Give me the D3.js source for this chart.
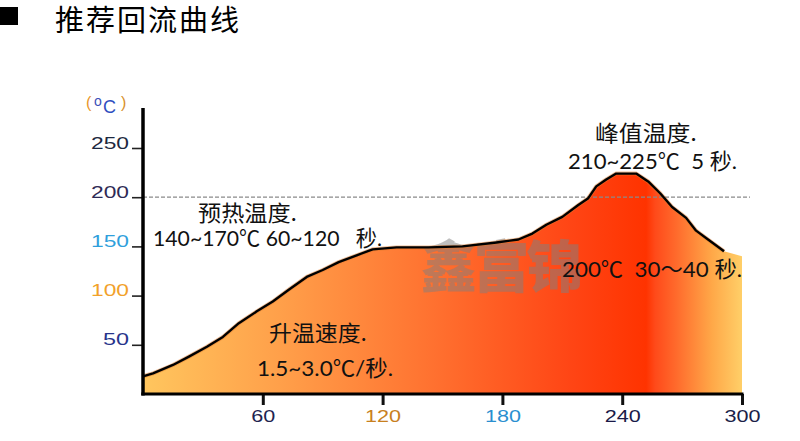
<!DOCTYPE html>
<html>
<head>
<meta charset="utf-8">
<script src="https://cdn.jsdelivr.net/npm/d3@7"></script>
<style>
  html, body { margin: 0; padding: 0; background: #fff; }
  svg { display: block; }
  text { white-space: pre; }
</style>
</head>
<body>
<svg id="chart" width="800" height="441"></svg>
<script>
// ---- data ----
const title = "推荐回流曲线";
const yTicks = [50, 100, 150, 200, 250];
const yTickColors = ["#27348b", "#f2a12a", "#2f9fdc", "#2e2a55", "#1d2840"];
const xTicks = [60, 120, 180, 240, 300];
const xTickColors = ["#1e2450", "#c8801e", "#2a8fd0", "#1a1a48", "#1a2048"];
const times = [0, 5, 15, 23, 32, 40, 48, 57, 65, 73, 82, 90, 98, 107, 115, 127, 143, 160, 177, 188, 195, 202, 210, 218, 223, 227, 232, 237, 247, 253, 259, 265, 272, 277, 283, 291];
const temps = [18, 21, 29.5, 38, 48, 58, 72, 84, 94, 106, 119, 126, 134, 141, 147, 149, 149, 150, 154, 157, 163, 172, 180, 192, 199, 211, 218, 224, 224, 216, 204, 190, 179, 166, 157, 145];
const fillEnd = [300, 140];
const refTemp = 200;

const svg = d3.select("#chart");
const x = d3.scaleLinear().domain([0, 300]).range([143, 742]);
const y = d3.scaleLinear().domain([0, 250]).range([394, 148]);

const pts = times.map((t, i) => [t, temps[i]]);
const areaPts = pts.concat([fillEnd]);

// gradient
const defs = svg.append("defs");
const grad = defs.append("linearGradient").attr("id", "g")
  .attr("gradientUnits", "userSpaceOnUse")
  .attr("x1", x(0)).attr("x2", x(300)).attr("y1", 0).attr("y2", 0);
[[0, "#ffc65e"], [0.25, "#ff9c48"], [0.5, "#ff6e2e"], [0.72, "#ff4414"], [0.84, "#ff3300"], [0.855, "#ff4a1a"], [0.89, "#ff6a2c"], [0.95, "#ffa848"], [1, "#ffcf68"]]
  .forEach(([o, c]) => grad.append("stop").attr("offset", o).attr("stop-color", c));

// area
const area = d3.area().x(d => x(d[0])).y0(y(0)).y1(d => y(d[1]));
svg.append("path").datum(areaPts).attr("d", area).attr("fill", "url(#g)");

// watermark
svg.append("text").attr("x", 500).attr("y", 287).attr("text-anchor", "middle")
  .attr("font-family", "Noto Sans CJK SC").attr("font-weight", 900).attr("font-size", 56)
  .attr("fill", "#808080").attr("fill-opacity", 0.5).attr("letter-spacing", -3)
  .text("鑫富锦");

// reference dashed line
svg.append("line").attr("x1", x(0)).attr("x2", 750).attr("y1", y(refTemp)).attr("y2", y(refTemp))
  .attr("stroke", "#8a8a8a").attr("stroke-width", 1.3).attr("stroke-dasharray", "4,2");

// curve
const line = d3.line().x(d => x(d[0])).y(d => y(d[1]));
svg.append("path").datum(pts).attr("d", line).attr("fill", "none")
  .attr("stroke", "#e07a2a").attr("stroke-width", 4).attr("stroke-opacity", 0.5).attr("stroke-linejoin", "round");
svg.append("path").datum(pts).attr("d", line).attr("fill", "none")
  .attr("stroke", "#000").attr("stroke-width", 2.4).attr("stroke-linejoin", "round");

// axes
const yAxis = d3.axisLeft(y).tickValues(yTicks).tickSize(11).tickPadding(3).tickFormat(d3.format("d"));
const gy = svg.append("g").attr("transform", `translate(${x(0)},0)`).call(yAxis);
gy.select(".domain").remove();
gy.selectAll(".tick line").attr("stroke", "#222").attr("stroke-width", 1.6);
gy.selectAll(".tick text").attr("font-family", "Liberation Sans, Arial").attr("font-size", 16)
  .attr("dy", 0).attr("fill", (d, i) => yTickColors[i])
  .attr("textLength", d => d < 100 ? 26 : 38).attr("lengthAdjust", "spacingAndGlyphs");

const xAxis = d3.axisBottom(x).tickValues(xTicks).tickSize(11).tickPadding(6).tickFormat(d3.format("d"));
const gx = svg.append("g").attr("transform", `translate(0,${y(0)})`).call(xAxis);
gx.select(".domain").remove();
gx.selectAll(".tick line").attr("stroke", "#111").attr("stroke-width", 3);
gx.selectAll(".tick text").attr("font-family", "Liberation Sans, Arial").attr("font-size", 16)
  .attr("fill", (d, i) => xTickColors[i])
  .attr("textLength", d => d < 100 ? 24 : 36).attr("lengthAdjust", "spacingAndGlyphs");

// axis lines
svg.append("line").attr("x1", x(0)).attr("x2", x(0)).attr("y1", 108).attr("y2", y(0) + 1.5)
  .attr("stroke", "#000").attr("stroke-width", 3.5);
svg.append("line").attr("x1", x(0) - 1.7).attr("x2", x(300) + 1.5).attr("y1", y(0)).attr("y2", y(0))
  .attr("stroke", "#000").attr("stroke-width", 3);

// unit label
const uf = "Liberation Sans, Arial";
svg.append("text").attr("x", 86).attr("y", 108).attr("font-family", uf).attr("font-size", 16).attr("fill", "#e8962a").text("(");
svg.append("text").attr("x", 94).attr("y", 106).attr("font-family", uf).attr("font-size", 14).attr("fill", "#3a4fb8").text("o");
svg.append("text").attr("x", 103).attr("y", 113).attr("font-family", uf).attr("font-size", 18).attr("fill", "#2f4fc0").text("C");
svg.append("text").attr("x", 121).attr("y", 108).attr("font-family", uf).attr("font-size", 16).attr("fill", "#d8902a").text(")");

// title
svg.append("rect").attr("x", 0).attr("y", 7).attr("width", 18).attr("height", 18).attr("fill", "#000");
svg.append("text").attr("x", 55).attr("y", 31).attr("font-family", "Noto Sans CJK SC")
  .attr("font-size", 29).attr("fill", "#000").attr("letter-spacing", 2).text(title);

// annotations
function label(txt, xx, yy, w, size, family) {
  svg.append("text").attr("x", xx).attr("y", yy)
    .attr("font-family", family).attr("font-size", size)
    .attr("textLength", w).attr("lengthAdjust", "spacingAndGlyphs")
    .attr("fill", "#111").text(txt);
}
const cjk = "Noto Sans CJK SC";
const num = "Lato, Noto Sans CJK SC";
label("预热温度.", 198, 221, 99, 22, cjk);
label("140~170℃ 60~120   秒.", 153, 246, 229, 22, num);
label("峰值温度.", 595, 141, 102, 22, cjk);
label("210~225℃  5 秒.", 568, 169, 169, 22, num);
label("200℃  30～40 秒.", 562, 277, 180, 22, num);
label("升温速度.", 269, 341, 98, 22, cjk);
label("1.5~3.0℃/秒.", 257, 376, 136, 22, num);
</script>
</body>
</html>
